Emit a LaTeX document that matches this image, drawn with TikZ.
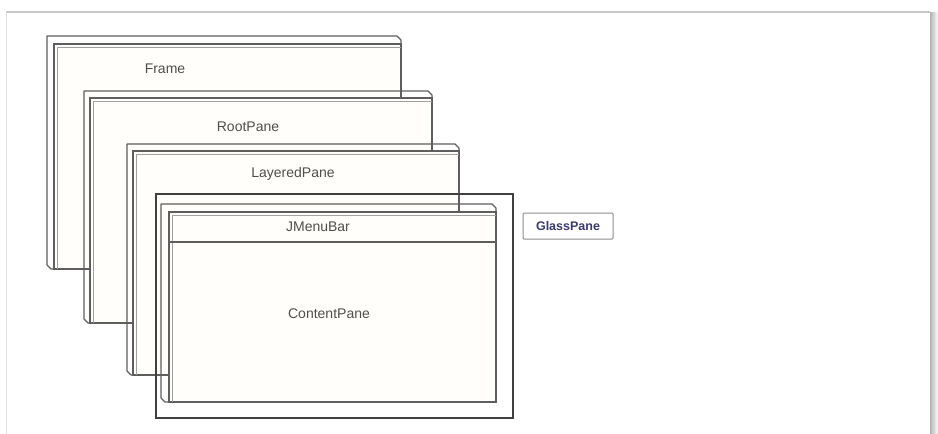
\documentclass[tikz,border=0pt]{standalone}
\usepackage{fontspec}
\setmainfont{Liberation Sans}
\definecolor{edge}{HTML}{5E5E5E}
\definecolor{innerc}{HTML}{A0A0A0}
\definecolor{face}{HTML}{FFFEFA}
\definecolor{lbl}{HTML}{4E4E4E}
\definecolor{navy}{HTML}{3A3A72}
\tikzset{
  backline/.style={draw=edge, line width=1.1pt, line join=round},
  frontline/.style={draw=edge, line width=1.1pt, fill=face},
  innerline/.style={draw=innerc, line width=0.9pt},
  glassline/.style={draw=black!75, line width=1.5pt},
  lab/.style={text=lbl, font=\fontsize{14}{16}\selectfont, inner sep=0pt},
  glasslab/.style={draw=black!45, line width=1pt, rounded corners=1pt, text=navy,
    font=\bfseries\fontsize{12.5}{15}\selectfont, minimum width=90pt, minimum height=26pt, inner sep=0pt},
}
% #1 back x, #2 back y, #3 front x, #4 front y, #5 right x, #6 bottom y
\newcommand{\mypane}[6]{%
  \draw[backline] (#3,#6) -- (#1+4,#6) -- (#1,#6-4) -- (#1,#2) -- (#5-4,#2) -- (#5,#2+4) -- (#5,#4);
  \draw[frontline] (#3,#4) rectangle (#5,#6);
  \draw[innerline] (#3+3,#6-0.5) -- (#3+3,#4+3) -- (#5-0.5,#4+3);
}
\begin{document}
\begin{tikzpicture}[x=1pt,y=-1pt]
\useasboundingbox (0,0) rectangle (938,434);
\fill[white] (0,0) rectangle (938,434);
% card shadow
\shade[left color=black!30, right color=white] (930,12) rectangle (938,434);
\draw[black!22, line width=1.2pt] (6,12) -- (930,12);
\draw[black!12, line width=1pt] (6,12) -- (6,434);
% Frame
\mypane{47}{36}{54}{44}{401}{269}
\node[lab] (frame) at (165,69) {Frame};
% RootPane
\mypane{84}{91}{90}{98}{432}{323}
\node[lab] (root) at (248,127) {RootPane};
% LayeredPane
\mypane{127}{144}{133}{151}{459}{375}
\node[lab] (layered) at (293,174) {LayeredPane};
% GlassPane outline
\draw[glassline] (156,194) rectangle (513,418);
% ContentPane with JMenuBar
\mypane{161}{204}{169}{212}{496}{402}
\draw[frontline, fill=none] (169,242) -- (496,242);
\node[lab] (menubar) at (318,227) {JMenuBar};
\node[lab] (content) at (329,314) {ContentPane};
% GlassPane label
\node[glasslab] (glass) at (568,226) {GlassPane};
\end{tikzpicture}
\end{document}
